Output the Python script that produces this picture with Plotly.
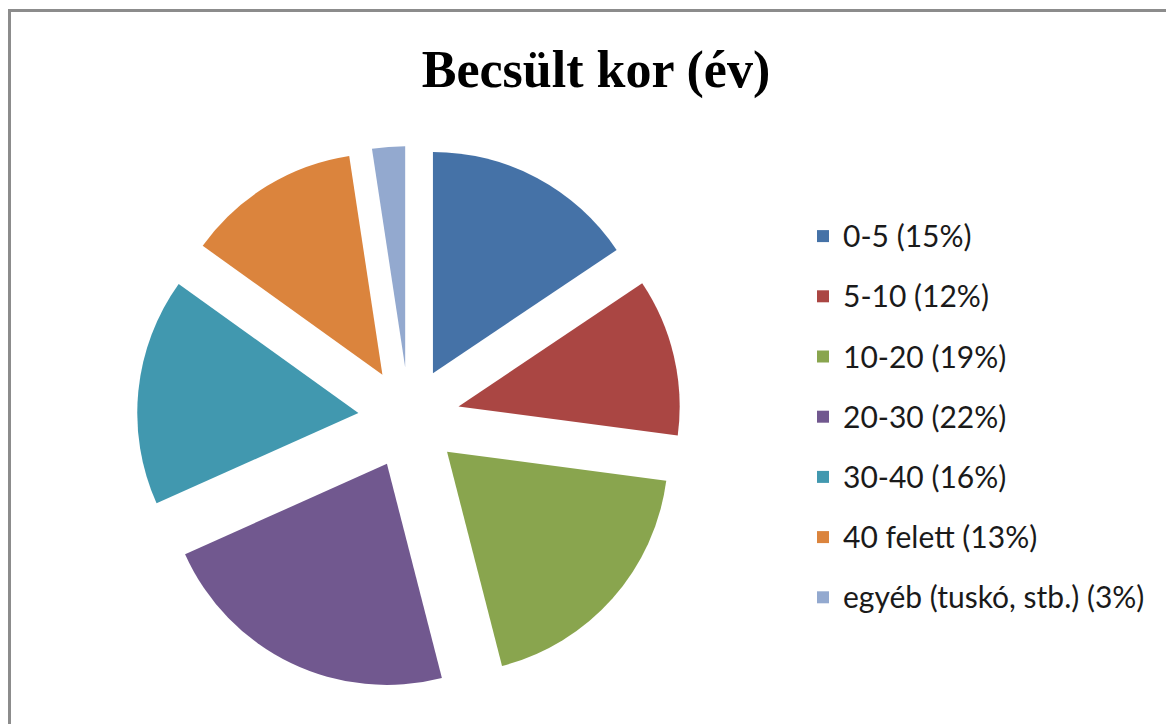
import plotly.graph_objects as go

categories = ["0-5 (15%)", "5-10 (12%)", "10-20 (19%)", "20-30 (22%)",
              "30-40 (16%)", "40 felett (13%)", "egyéb (tuskó, stb.) (3%)"]
values = [15.6, 11.5, 18.9, 22.3, 16.6, 12.7, 2.4]
colors = ["#4572A7", "#AA4643", "#89A54E", "#71588F", "#4198AF", "#DB843D", "#93A9CF"]

W, H = 1174, 724
# pie geometry in figure pixels (page adds an 8px body margin)
cx, cy, R = 401, 410, 272

labels = [f"<span style='font-size:30px;baseline-shift:6px'>{c}</span>" for c in categories]

fig = go.Figure(go.Pie(
    labels=labels,
    values=values,
    sort=False,
    direction="clockwise",
    rotation=0,
    pull=[0.23] * len(values),
    marker=dict(colors=colors, line=dict(width=0)),
    textinfo="none",
    hoverinfo="label+percent",
    domain=dict(x=[(cx - R) / W, (cx + R) / W], y=[1 - (cy + R) / H, 1 - (cy - R) / H]),
))

fig.update_layout(
    width=W, height=H,
    margin=dict(l=0, r=0, t=0, b=0),
    paper_bgcolor="white",
    plot_bgcolor="white",
    title=dict(text="<b>Becsült kor (év)</b>", x=588 / W, xanchor="center",
               y=1 - 61 / H, yanchor="middle", yref="container",
               font=dict(family="Liberation Serif", size=52, color="black")),
    legend=dict(x=795 / W, xanchor="left", y=1 - 409 / H, yanchor="middle",
                font=dict(family="Lato", size=44, color="#1a1a1a"),
                bgcolor="rgba(0,0,0,0)"),
    shapes=[dict(type="rect", xref="paper", yref="paper",
                 x0=1.5 / W, x1=1.05, y0=-0.05, y1=1 - 2.5 / H,
                 line=dict(color="#8c8c8c", width=3), fillcolor="rgba(0,0,0,0)", layer="below")],
)

fig.write_html("out.html")
